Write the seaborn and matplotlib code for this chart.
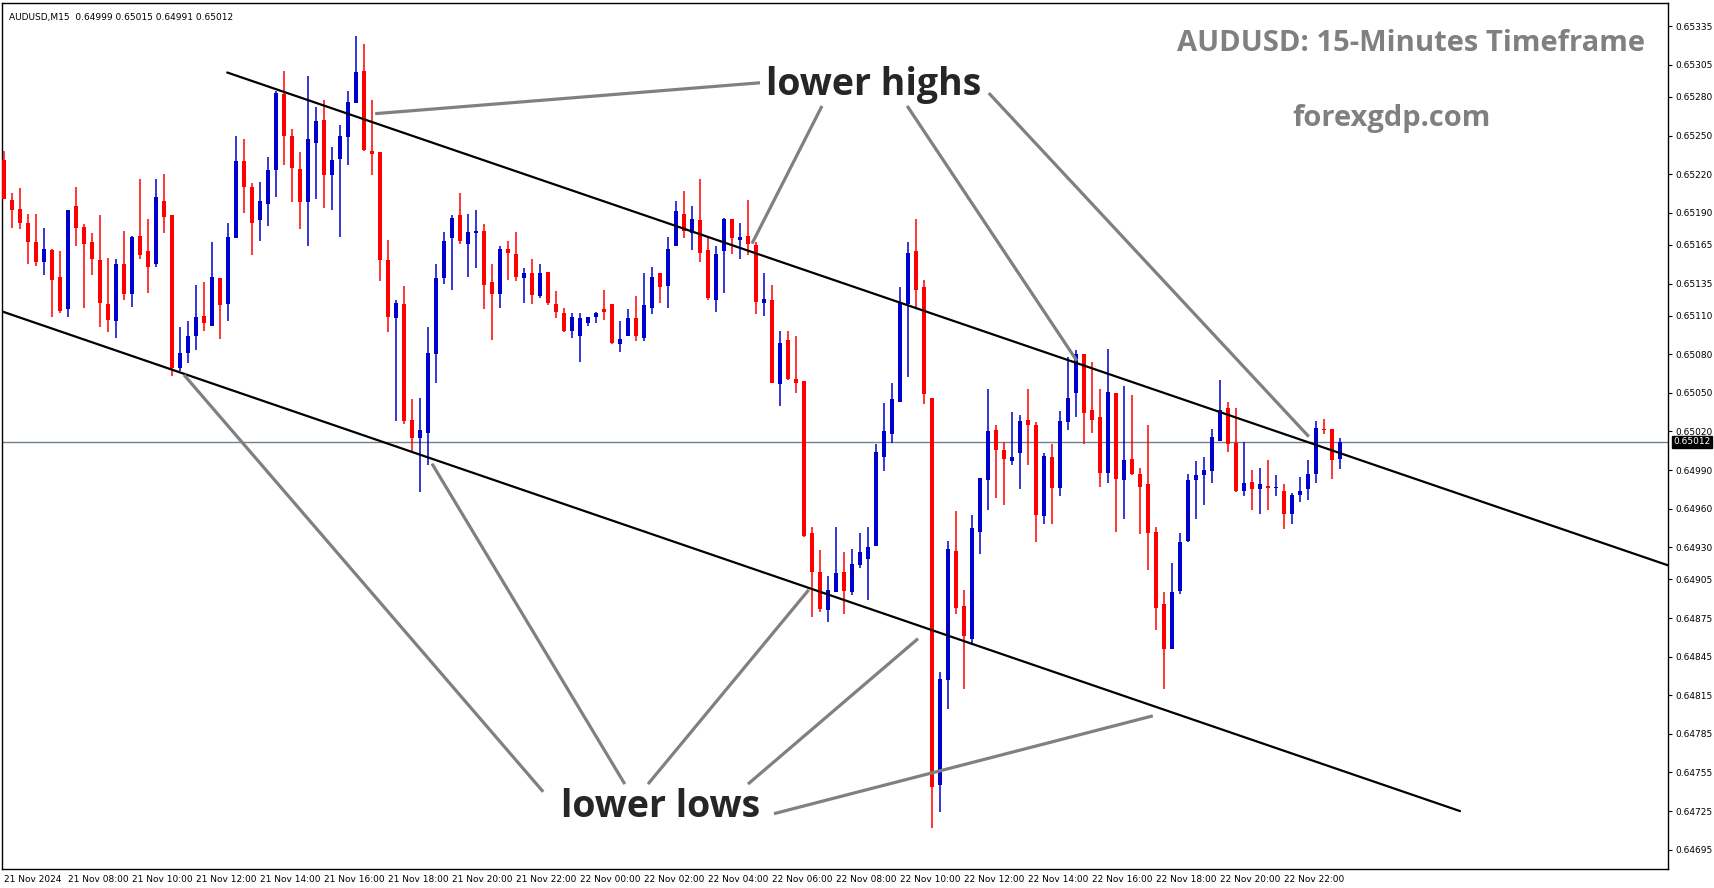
import numpy as np
import pandas as pd
import seaborn as sns
import matplotlib.pyplot as plt

# 15-minute candles, prices in 1e-5 units (AUDUSD)
opens = [65231, 65200, 65193, 65182, 65167, 65152, 65161, 65140, 65115, 65195,
         65179, 65167, 65153, 65119, 65106, 65150, 65127, 65172, 65160, 65150,
         65199, 65188, 65069, 65081, 65094, 65110, 65102, 65139, 65119, 65170,
         65230, 65210, 65184, 65197, 65223, 65282, 65250, 65224, 65198, 65244,
         65262, 65219, 65232, 65249, 65275, 65300, 65238, 65237, 65153, 65108,
         65119, 65029, 65015, 65019, 65080, 65139, 65170, 65188, 65166, 65174,
         65176, 65136, 65127, 65162, 65158, 65139, 65143, 65125, 65144, 65119,
         65112, 65098, 65094, 65104, 65109, 65115, 65119, 65088, 65094, 65108,
         65093, 65116, 65143, 65133, 65164, 65189, 65174, 65184, 65161, 65122,
         65160, 65185, 65169, 65172, 65165, 65120, 65122, 65057, 65091, 65061,
         65059, 64941, 64911, 64881, 64895, 64911, 64895, 64916, 64921, 64931,
         65000, 65018, 65043, 65119, 65160, 65132, 65046, 64745, 64827, 64927,
         64884, 64859, 64942, 64982, 65021, 65006, 64997, 65003, 65029, 65025,
         64954, 65000, 64976, 65027, 65050, 65080, 65037, 65031, 64988, 65050,
         64982, 64999, 64987, 64979, 64942, 64886, 64851, 64896, 64935, 64982,
         64986, 64989, 65013, 65038, 65011, 64974, 64981, 64975, 64978, 64976,
         64974, 64956, 64971, 64975, 64987, 65022, 65022, 64999]
highs = [65238, 65205, 65209, 65189, 65189, 65178, 65162, 65160, 65192, 65210,
         65181, 65174, 65188, 65155, 65154, 65176, 65172, 65216, 65185, 65216,
         65220, 65188, 65101, 65106, 65134, 65136, 65167, 65139, 65182, 65250,
         65247, 65213, 65214, 65233, 65285, 65300, 65255, 65237, 65296, 65272,
         65278, 65241, 65258, 65285, 65327, 65321, 65278, 65237, 65169, 65122,
         65133, 65045, 65046, 65101, 65150, 65175, 65188, 65205, 65189, 65192,
         65181, 65150, 65164, 65168, 65175, 65147, 65154, 65150, 65144, 65129,
         65116, 65112, 65112, 65109, 65113, 65130, 65119, 65106, 65115, 65125,
         65143, 65148, 65143, 65171, 65199, 65207, 65195, 65216, 65172, 65164,
         65186, 65185, 65182, 65200, 65167, 65143, 65134, 65098, 65098, 65094,
         65059, 64946, 64928, 64908, 64946, 64926, 64929, 64941, 64946, 65010,
         65042, 65058, 65132, 65167, 65185, 65138, 65046, 64833, 64935, 64958,
         64897, 64955, 64984, 65053, 65025, 65012, 65035, 65033, 65053, 65027,
         65003, 65010, 65036, 65078, 65083, 65080, 65074, 65053, 65084, 65050,
         65055, 65048, 64992, 65025, 64946, 64895, 64918, 64941, 64987, 64997,
         65000, 65022, 65060, 65043, 65038, 65012, 64990, 64992, 64998, 64986,
         64979, 64972, 64985, 64998, 65028, 65030, 65022, 65015]
lows = [65201, 65178, 65177, 65150, 65149, 65142, 65109, 65112, 65109, 65164,
        65116, 65142, 65101, 65097, 65093, 65122, 65117, 65154, 65128, 65148,
        65174, 65063, 65067, 65073, 65083, 65098, 65102, 65092, 65106, 65170,
        65190, 65157, 65168, 65180, 65202, 65227, 65198, 65177, 65164, 65201,
        65194, 65192, 65171, 65227, 65275, 65238, 65219, 65137, 65097, 65028,
        65026, 65003, 64973, 64994, 65058, 65135, 65130, 65166, 65140, 65147,
        65115, 65091, 65116, 65138, 65137, 65120, 65119, 65124, 65118, 65108,
        65097, 65093, 65074, 65102, 65104, 65107, 65088, 65082, 65094, 65090,
        65090, 65111, 65120, 65116, 65164, 65170, 65161, 65152, 65122, 65113,
        65128, 65158, 65154, 65157, 65111, 65110, 65058, 65040, 65060, 65050,
        64938, 64876, 64880, 64872, 64895, 64878, 64893, 64914, 64889, 64931,
        64989, 65011, 65043, 65062, 65115, 65041, 64712, 64724, 64804, 64878,
        64820, 64854, 64925, 64959, 64968, 64963, 64994, 64975, 64994, 64934,
        64948, 64948, 64970, 65021, 65031, 65010, 65019, 64977, 64980, 64942,
        64952, 64986, 64940, 64912, 64866, 64820, 64851, 64894, 64934, 64952,
        64963, 64980, 65013, 65004, 64973, 64970, 64959, 64956, 64959, 64970,
        64944, 64948, 64965, 64967, 64980, 65018, 64983, 64991]
closes = [65201, 65192, 65182, 65167, 65152, 65162, 65138, 65114, 65192, 65178,
          65166, 65154, 65120, 65107, 65150, 65127, 65171, 65157, 65148, 65202,
          65187, 65069, 65081, 65094, 65109, 65104, 65140, 65118, 65171, 65230,
          65210, 65182, 65199, 65223, 65283, 65250, 65225, 65198, 65247, 65261,
          65219, 65231, 65250, 65276, 65299, 65239, 65236, 65153, 65109, 65120,
          65028, 65015, 65021, 65081, 65139, 65168, 65186, 65168, 65175, 65176,
          65134, 65127, 65162, 65159, 65140, 65143, 65126, 65143, 65120, 65113,
          65098, 65109, 65108, 65109, 65112, 65113, 65089, 65092, 65108, 65094,
          65118, 65140, 65132, 65162, 65191, 65176, 65185, 65159, 65124, 65158,
          65185, 65170, 65171, 65166, 65121, 65123, 65058, 65089, 65061, 65058,
          64939, 64911, 64882, 64897, 64910, 64896, 64917, 64926, 64930, 65004,
          65020, 65045, 65121, 65159, 65130, 65049, 64744, 64828, 64929, 64883,
          64861, 64945, 64984, 65020, 65006, 64999, 65000, 65028, 65025, 64955,
          65001, 64976, 65028, 65046, 65080, 65034, 65029, 64988, 65051, 64983,
          64998, 64987, 64977, 64941, 64883, 64851, 64895, 64934, 64982, 64986,
          64990, 65016, 65037, 65010, 64974, 64980, 64975, 64979, 64976, 64976,
          64956, 64971, 64974, 64987, 65023, 65021, 64998, 65012]

time_labels = ["21 Nov 2024", "21 Nov 08:00", "21 Nov 10:00", "21 Nov 12:00", "21 Nov 14:00",
               "21 Nov 16:00", "21 Nov 18:00", "21 Nov 20:00", "21 Nov 22:00", "22 Nov 00:00",
               "22 Nov 02:00", "22 Nov 04:00", "22 Nov 06:00", "22 Nov 08:00", "22 Nov 10:00",
               "22 Nov 12:00", "22 Nov 14:00", "22 Nov 16:00", "22 Nov 18:00", "22 Nov 20:00",
               "22 Nov 22:00"]
price_ticks = [65335, 65305, 65280, 65250, 65220, 65190, 65165, 65135, 65110, 65080,
               65050, 65020, 64990, 64960, 64930, 64905, 64875, 64845, 64815, 64785,
               64755, 64725, 64695]
last_price = 65012

# channel lines (start/end candle index, price)
upper_channel = [(27.9, 65299), (208, 64916)]
lower_channel = [(-0.1, 65113), (182, 64725)]
highs_text = (108.75, 65289)
highs_arrows = [(94.5, 65291, 46.4, 65267), (102.25, 65273, 93.5, 65166),
                (112.9, 65273, 134.1, 65075), (123.1, 65283, 163.1, 65016)]
lows_text = (82.1, 64728)
lows_arrows = [(67.4, 64740, 22.5, 65064), (77.6, 64746, 53.5, 64995),
               (80.5, 64746, 100.6, 64897), (93, 64746, 114.25, 64859),
               (96.25, 64723, 143.6, 64799)]

df = pd.DataFrame({"o": opens, "h": highs, "l": lows, "c": closes}) / 1e5
df["x"] = np.arange(len(df))
df["up"] = df["c"] >= df["o"]

sns.set_style("white")
plt.rcParams["font.family"] = ["DejaVu Sans"]

fig = plt.figure(figsize=(17.14, 8.88), dpi=100)
ax = fig.add_axes([2 / 1714, 19 / 888, 1666 / 1714, 866 / 888])

colors = np.where(df["up"], "#0000cc", "#ff0000")
ax.vlines(df["x"], df["l"], df["h"], colors=colors, linewidth=1.1, zorder=3)
body_lo = df[["o", "c"]].min(axis=1)
body_h = (df["c"] - df["o"]).abs().clip(lower=0.000012)
ax.bar(df["x"], body_h, bottom=body_lo, width=0.62, color=colors, linewidth=0, zorder=4)

ax.axhline(last_price / 1e5, color="#708090", linewidth=1, zorder=1)

for (x0, p0), (x1, p1) in [upper_channel, lower_channel]:
    ax.plot([x0, x1], [p0 / 1e5, p1 / 1e5], color="black", linewidth=1.6, zorder=5)

for x0, p0, x1, p1 in highs_arrows + lows_arrows:
    ax.plot([x0, x1], [p0 / 1e5, p1 / 1e5], color="#808080", linewidth=2.3,
            solid_capstyle="butt", zorder=6)

ax.text(highs_text[0], highs_text[1] / 1e5, "lower highs", fontsize=27, fontweight="bold",
        family="Open Sans", ha="center", va="center", zorder=7)
ax.text(lows_text[0], lows_text[1] / 1e5, "lower lows", fontsize=27, fontweight="bold",
        family="Open Sans", ha="center", va="center", zorder=7)

ax.text(0.986, 0.953, "AUDUSD: 15-Minutes Timeframe", transform=ax.transAxes,
        fontsize=21, fontweight="bold", color="#808080", family="Open Sans",
        ha="right", va="center")
ax.text(0.834, 0.867, "forexgdp.com", transform=ax.transAxes,
        fontsize=21, fontweight="bold", color="#808080", family="Open Sans",
        ha="center", va="center")
ax.text(0.004, 0.988, "AUDUSD,M15  0.64999 0.65015 0.64991 0.65012", transform=ax.transAxes,
        fontsize=6.5, color="black", ha="left", va="top")

ax.set_xlim(-0.25, 208)
ax.set_ylim(0.64680, 0.65353)
ax.set_xticks(np.arange(0, 8 * len(time_labels), 8))
ax.set_xticklabels(time_labels, fontsize=6.5, ha="left")
ax.set_yticks(np.array(price_ticks) / 1e5)
ax.set_yticklabels([f"{p / 1e5:.5f}" for p in price_ticks], fontsize=6.5)
ax.yaxis.tick_right()
ax.tick_params(axis="both", direction="out", length=3, width=0.8, pad=2, colors="black")
ax.tick_params(axis="x", pad=1)
for s in ax.spines.values():
    s.set_color("black")
    s.set_linewidth(1)

ax.text(1.003, last_price / 1e5, f"{last_price / 1e5:.5f}", transform=ax.get_yaxis_transform(),
        fontsize=6.5, color="white", ha="left", va="center",
        bbox=dict(boxstyle="square,pad=0.15", fc="black", ec="black"), zorder=10, clip_on=False)

fig.savefig("out.png", dpi=100, facecolor="white")
